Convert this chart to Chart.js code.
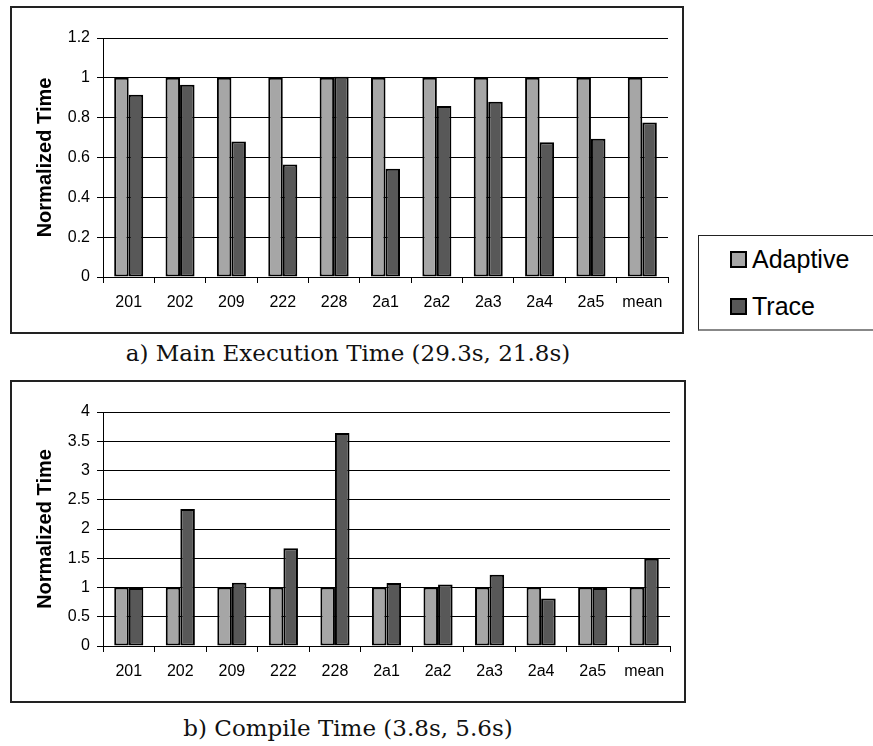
<!DOCTYPE html>
<html>
<head>
<meta charset="utf-8">
<script src="https://cdn.jsdelivr.net/npm/chart.js@4/dist/chart.umd.min.js"></script>
<style>
  body { margin: 0; background: #fff; width: 873px; height: 746px; position: relative; overflow: hidden; }
  .frame { position: absolute; border: 2px solid #222; box-sizing: border-box; }
  .frame canvas { position: absolute; left: 0; top: 0; }
  .caption { position: absolute; left: 0; width: 696px; text-align: center; line-height: 23px;
             font-family: "DejaVu Serif", serif; font-size: 23px; color: #111; white-space: nowrap; }
  #legend { position: absolute; left: 698px; top: 235px; width: 180px; height: 96px;
            border: 1px solid #222; border-bottom: 2px solid #888; box-sizing: border-box;
            font-family: "Liberation Sans", Arial, sans-serif; font-size: 25px; color: #000; }
  .item { position: absolute; left: 31px; display: flex; align-items: center; }
  .swatch { width: 13px; height: 13px; border: 2px solid #000; margin-right: 5px; }
</style>
</head>
<body>
<div class="frame" id="frameA" style="left:10px; top:6px; width:674px; height:328px;">
  <canvas id="execChart"></canvas>
</div>
<div class="caption" style="top:342px;">a) Main Execution Time (29.3s, 21.8s)</div>
<div id="legend"></div>
<div class="frame" id="frameB" style="left:10px; top:380px; width:676px; height:323px;">
  <canvas id="compileChart"></canvas>
</div>
<div class="caption" style="top:717px;">b) Compile Time (3.8s, 5.6s)</div>

<script>
// Data
const benchmarks = ['201', '202', '209', '222', '228', '2a1', '2a2', '2a3', '2a4', '2a5', 'mean'];

const execAdaptive = [1, 1, 1, 1, 1, 1, 1, 1, 1, 1, 1];
const execTrace = [0.915, 0.965, 0.68, 0.565, 1.005, 0.543, 0.858, 0.88, 0.676, 0.694, 0.776];

const compileAdaptive = [1, 1, 1, 1, 1, 1, 1, 1, 1, 1, 1];
const compileTrace = [0.99, 2.34, 1.08, 1.67, 3.64, 1.075, 1.05, 1.22, 0.81, 0.99, 1.49];

const execTicks = [0, 0.2, 0.4, 0.6, 0.8, 1, 1.2];
const compileTicks = [0, 0.5, 1, 1.5, 2, 2.5, 3, 3.5, 4];

const seriesNames = ['Adaptive', 'Trace'];
const seriesColors = ['#a6a6a6', '#585858'];

const font = 'Liberation Sans, Arial, sans-serif';

function makeChart(id, w, h, adaptive, trace, ticks) {
    const canvas = document.getElementById(id);
    canvas.width = w;
    canvas.height = h;
    canvas.style.width = w + 'px';
    canvas.style.height = h + 'px';

    const values = [adaptive, trace];

    return new Chart(canvas, {
        type: 'bar',
        data: {
            labels: benchmarks,
            datasets: seriesNames.map((name, i) => ({
                label: name,
                data: values[i],
                backgroundColor: seriesColors[i],
                borderColor: '#000',
                borderWidth: 2,
                borderSkipped: false,
                categoryPercentage: 0.565,
                barPercentage: 1.0
            }))
        },
        options: {
            responsive: false,
            animation: false,
            events: [],
            layout: { padding: { left: 0, right: 14, top: 30, bottom: 0 } },
            plugins: {
                legend: { display: false },
                tooltip: { enabled: false }
            },
            scales: {
                x: {
                    grid: {
                        display: true,
                        drawOnChartArea: false,
                        color: '#000',
                        tickLength: 6,
                        offset: true
                    },
                    border: { color: '#000', width: 1 },
                    ticks: { color: '#000', padding: 10, font: { family: font, size: 16 } },
                    afterFit: (scale) => { scale.height = 55; }
                },
                y: {
                    min: ticks[0],
                    max: ticks[ticks.length - 1],
                    afterBuildTicks: (scale) => {
                        scale.ticks = ticks.map(v => ({ value: v }));
                    },
                    grid: { color: '#000', lineWidth: 1, tickLength: 6 },
                    border: { color: '#000', width: 1 },
                    ticks: {
                        color: '#000',
                        padding: 7,
                        font: { family: font, size: 16 },
                        callback: (v) => String(v)
                    },
                    title: {
                        display: true,
                        text: 'Normalized Time',
                        color: '#000',
                        font: { family: font, size: 20, weight: 'bold' },
                        padding: { top: 21, bottom: 0 }
                    },
                    afterFit: (scale) => { scale.width = 91; }
                }
            }
        }
    });
}

makeChart('execChart', 670, 324, execAdaptive, execTrace, execTicks);
makeChart('compileChart', 672, 319, compileAdaptive, compileTrace, compileTicks);

// Legend
const legend = document.getElementById('legend');
seriesNames.forEach((name, i) => {
    const item = document.createElement('div');
    item.className = 'item';
    item.style.top = (i === 0 ? 9 : 56) + 'px';
    item.innerHTML = '<div class="swatch" style="background:' + seriesColors[i] + '"></div><span>' + name + '</span>';
    legend.appendChild(item);
});
</script>
</body>
</html>
